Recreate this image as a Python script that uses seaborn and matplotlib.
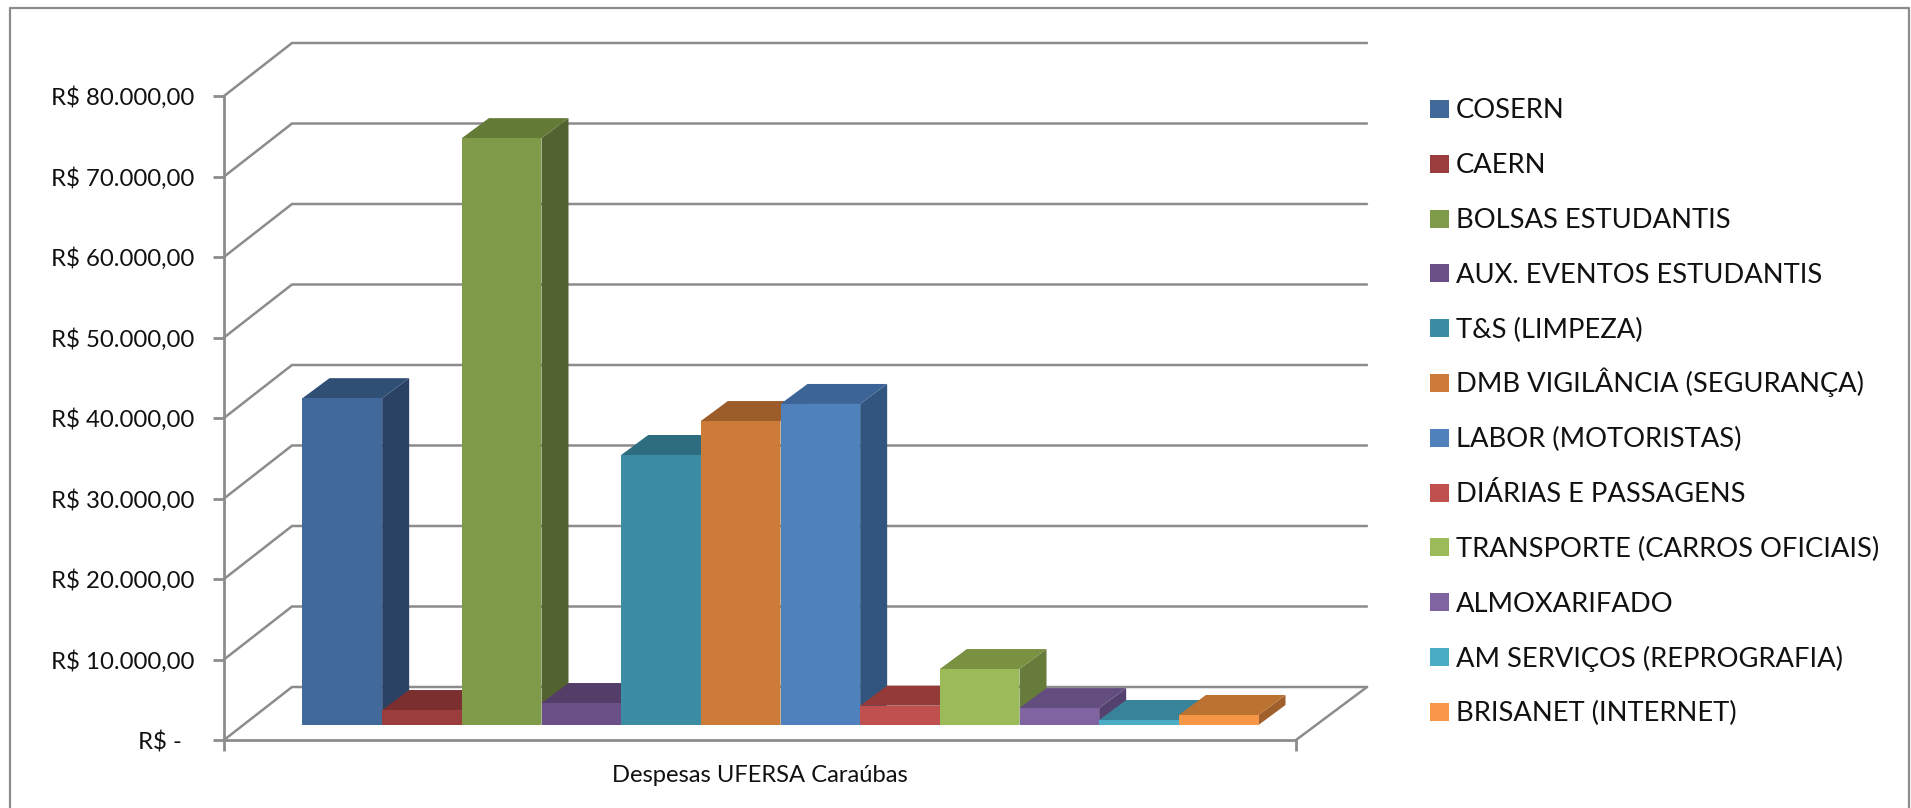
# -*- coding: utf-8 -*-
# Despesas UFERSA Caraubas - colunas com cara de 3D do Excel
import pandas as pd
import seaborn as sns
import matplotlib.pyplot as plt
from matplotlib.patches import Polygon, Rectangle
from matplotlib.ticker import FuncFormatter
from matplotlib.transforms import Affine2D

grupo = "Despesas UFERSA Caraúbas"
itens = ["COSERN", "CAERN", "BOLSAS ESTUDANTIS", "AUX. EVENTOS ESTUDANTIS",
         "T&S (LIMPEZA)", "DMB VIGILÂNCIA (SEGURANÇA)", "LABOR (MOTORISTAS)",
         "DIÁRIAS E PASSAGENS", "TRANSPORTE (CARROS OFICIAIS)", "ALMOXARIFADO",
         "AM SERVIÇOS (REPROGRAFIA)", "BRISANET (INTERNET)"]
valores = [40600, 1860, 72900, 2730, 33540, 37760, 39880, 2400, 6950, 2100, 620, 1240]
yticks = [0, 10000, 20000, 30000, 40000, 50000, 60000, 70000, 80000]

cor_frente = ["#416a9b", "#9c3d3d", "#7f9a48", "#6b5087", "#3c8da3", "#cc7b38",
              "#4f81bd", "#c0504d", "#9bbb59", "#8064a2", "#4bacc6", "#f79646"]
cor_lado = ["#2a4365", "#6b2a2a", "#53632f", "#49365e", "#2a6272", "#9c5d2a",
            "#32557f", "#8a3533", "#677c3a", "#54416e", "#2f7488", "#a0602b"]
cor_topo = ["#2f4f75", "#7b2f2f", "#647a37", "#533e6a", "#2e6d80", "#9c5d2a",
            "#3c6496", "#943a38", "#7a9142", "#634c7e", "#39839a", "#bc7231"]

W, H = 1911, 808
CINZA = "#8c8c8c"
# tudo em pixels da figura (dpi=100)
AX_L, AX_R, AX_TOP, AX_BOT = 224, 1296, 96, 740
FUNDO_DX, FUNDO_DY = 68, 53     # parede do fundo
BAR_DX, BAR_DY = 20.5, 15       # barras ficam recuadas no piso
PROF_DX, PROF_DY = 27, 20       # profundidade das barras

sns.set_style("white")
plt.rcParams['font.family'] = ['Lato', 'DejaVu Sans']

fig = plt.figure(figsize=(W / 100, H / 100), dpi=100)
ax = fig.add_axes([AX_L / W, 1 - AX_BOT / H, (AX_R - AX_L) / W, (AX_BOT - AX_TOP) / H])

df = pd.DataFrame({"grupo": grupo, "item": itens, "valor": valores})
sns.barplot(data=df, x="grupo", y="valor", hue="item", hue_order=itens,
            palette=dict(zip(itens, cor_frente)), width=956 / 1072, gap=0,
            saturation=1, errorbar=None, linewidth=0, legend=False, ax=ax)
ax.set_xlim(-0.5, 0.5)
ax.set_ylim(0, 80000)
ax.set_xlabel("")
ax.set_ylabel("")

# eixos
ax.set_yticks(yticks)
ax.yaxis.set_major_formatter(FuncFormatter(
    lambda v, p: "R$ -\u00a0\u00a0" if v == 0 else "R$ " + f"{v:,.2f}".replace(",", "X").replace(".", ",").replace("X", ".")))
ax.set_xticks([-0.5, 0.5], minor=True)
ax.tick_params(axis="x", which="minor", length=8, width=2, color=CINZA, bottom=True)
ax.tick_params(axis="x", which="major", length=0, pad=18, labelsize=17.1, labelcolor="#111111")
ax.tick_params(axis="y", length=8, width=2, color=CINZA, left=True, pad=13.5, labelsize=17.3, labelcolor="#111111")
sns.despine(ax=ax, top=True, right=True)
for lado in ["left", "bottom"]:
    ax.spines[lado].set_color(CINZA)
    ax.spines[lado].set_linewidth(2)

# paredes e grade
to_px = ax.transData
for t in yticks:
    x0, y0 = to_px.transform((-0.5, t))
    x1, y1 = to_px.transform((0.5, t))
    ax.plot([x0, x0 + FUNDO_DX, x1 + 71], [y0, y0 + FUNDO_DY, y1 + FUNDO_DY], color=CINZA, lw=1.8,
            transform=None, clip_on=False, zorder=0.5, solid_joinstyle="miter")
x1, y1 = to_px.transform((0.5, 0))
ax.plot([x1, x1 + 71], [y1, y1 + FUNDO_DY], color=CINZA, lw=1.8, transform=None, clip_on=False, zorder=0.5)

# faces das barras: esquerda pra direita, cada uma cobre a anterior
desloca = Affine2D().translate(BAR_DX, BAR_DY)
for i, bar in enumerate(ax.patches[:len(itens)]):
    bar.set_transform(ax.transData + desloca)
    bar.set_clip_on(False)
    bar.set_zorder(10 + 2 * i + 1)
    bx0, by0 = (ax.transData + desloca).transform((bar.get_x(), 0))
    bx1, by1 = (ax.transData + desloca).transform((bar.get_x() + bar.get_width(), bar.get_height()))
    lado = Polygon([(bx1, by0), (bx1 + PROF_DX, by0 + PROF_DY), (bx1 + PROF_DX, by1 + PROF_DY), (bx1, by1)],
                   closed=True, fc=cor_lado[i], ec="none", transform=None, clip_on=False, zorder=10 + 2 * i)
    topo = Polygon([(bx0, by1), (bx1, by1), (bx1 + PROF_DX, by1 + PROF_DY), (bx0 + PROF_DX, by1 + PROF_DY)],
                   closed=True, fc=cor_topo[i], ec="none", transform=None, clip_on=False, zorder=10 + 2 * i)
    ax.add_patch(lado)
    ax.add_patch(topo)

# legenda feita a mao, a do matplotlib deixa as linhas desiguais por causa dos acentos
for i, nome in enumerate(itens):
    yc = 109 + i * 54.8
    fig.add_artist(Rectangle((1430 / W, 1 - (yc + 9) / H), 19 / W, 18 / H, fc=cor_frente[i], ec="none",
                             transform=fig.transFigure))
    fig.text(1456 / W, 1 - (yc + 9.5) / H, nome, fontsize=19.7, color="#111111", va="baseline", ha="left")

# moldura sem a linha de baixo
fig.add_artist(plt.Line2D([10 / W, 10 / W, 1909 / W, 1909 / W], [0, 1 - 8 / H, 1 - 8 / H, 0],
                          color="#8c8c8c", lw=1.6))

fig.savefig("out.png", dpi=100)
